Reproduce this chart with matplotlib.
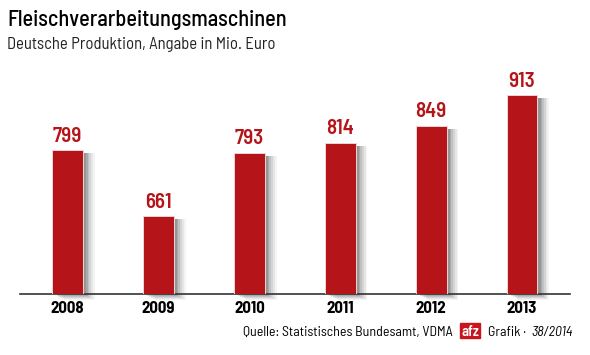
import matplotlib
matplotlib.use("Agg")
import matplotlib.pyplot as plt
from matplotlib.patches import Rectangle

years = ["2008", "2009", "2010", "2011", "2012", "2013"]
values = [799, 661, 793, 814, 849, 913]

title = "Fleischverarbeitungsmaschinen"
subtitle = "Deutsche Produktion, Angabe in Mio. Euro"
source = "Quelle: Statistisches Bundesamt, VDMA"

FAM = ["Barlow Semi Condensed", "DejaVu Sans"]
RED = "#b51519"

fig = plt.figure(figsize=(5.9, 3.55), dpi=100)
ax = fig.add_axes([20/590, 61/355, 550/590, (294-53)/355])
ax.set_xlim(-0.5226, 5.528)
ax.set_ylim(500, 1000)

x = list(range(len(years)))
w = 0.34
# soft shadow
for dx, dy, a in [(0.13, 12, 0.05), (0.11, 10, 0.07), (0.09, 8, 0.10), (0.07, 6, 0.13),
                  (0.05, 4, 0.16), (0.035, 3, 0.18)]:
    ax.bar([i + dx for i in x], [v - 500 + dy - 6 for v in values], width=w, bottom=500 - dy,
           color="#3a3a3a", alpha=a, linewidth=0, zorder=1, clip_on=False)
ax.bar(x, [v - 500 for v in values], width=w, bottom=500, color=RED,
       edgecolor="#f0d4d4", linewidth=0.7, zorder=3)

for i, v in enumerate(values):
    ax.text(i, v + 9, str(v), ha="center", va="bottom", color=RED,
            fontsize=15, fontweight="semibold", family=FAM, zorder=4)

ax.axhline(500, color="#333333", linewidth=1.2, zorder=2, clip_on=False)
for s in ax.spines.values():
    s.set_visible(False)
ax.set_xticks(x)
ax.set_xticklabels(years, fontsize=12, fontweight="bold", family=FAM)
ax.tick_params(axis="x", length=0, pad=5)
ax.set_yticks([])
ax.set_facecolor("none")

fig.text(7/590, 1 - 20/355, title, fontsize=16, family=FAM, va="center", ha="left", fontweight="medium")
fig.text(7/590, 1 - 45/355, subtitle, fontsize=12, family=FAM, va="center", ha="left", color="#222222")

fig.text(453/590, 1 - 332/355, source, fontsize=10, family=FAM, va="center", ha="right")
fig.patches.append(Rectangle((460/590, 1 - 338/355), 20/590, 15/355,
                             transform=fig.transFigure, color="#c8161c", figure=fig))
fig.text(470/590, 1 - 332/355, "afz", fontsize=10.5, family=FAM, va="center", ha="center", color="white", fontweight="semibold")
fig.text(488/590, 1 - 332/355, "Grafik · ", fontsize=10, family=FAM, va="center", ha="left")
fig.text(573/590, 1 - 332/355, "38/2014", fontsize=10, family=FAM, va="center", ha="right", style="italic")

fig.savefig("out.png", dpi=100, facecolor="white")
